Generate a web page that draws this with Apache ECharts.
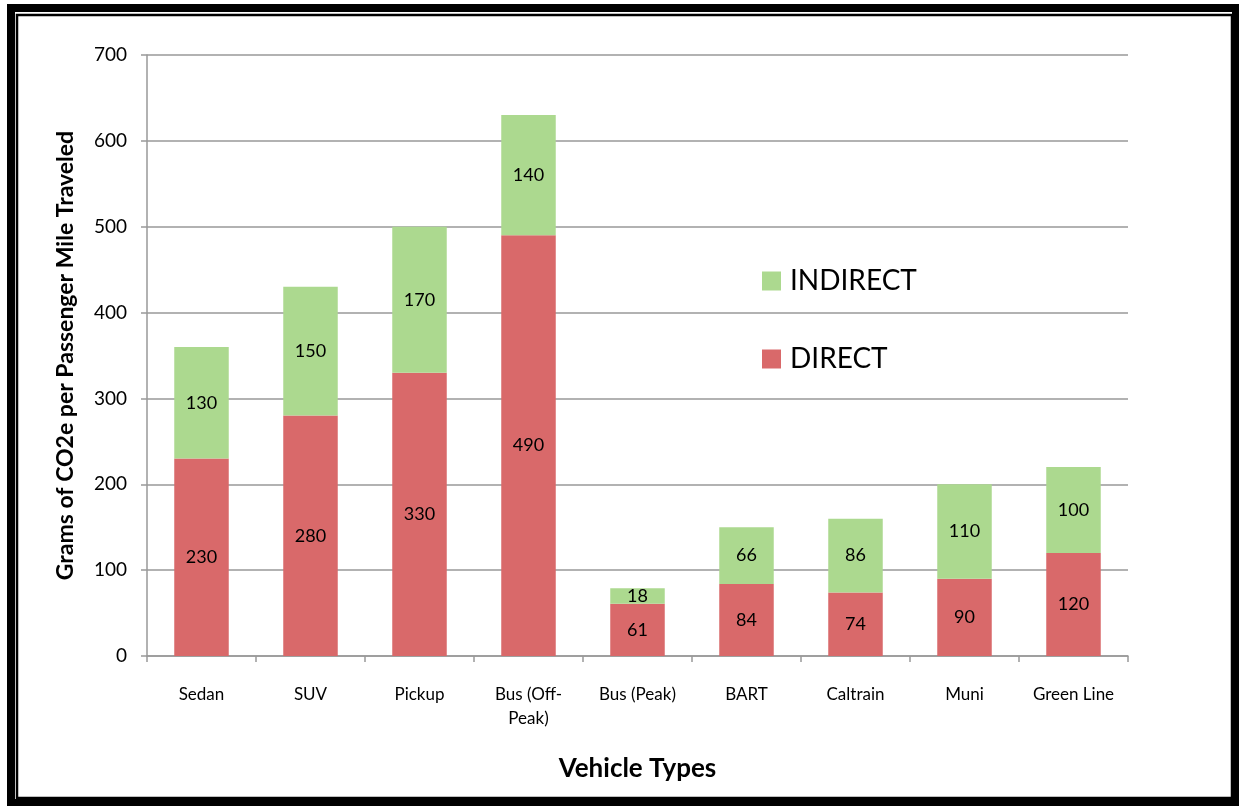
<!DOCTYPE html>
<html>
<head>
<meta charset="utf-8">
<script src="https://cdn.jsdelivr.net/npm/echarts@6/dist/echarts.min.js"></script>
<style>
html,body{margin:0;padding:0;background:#fff;}
#c{width:1239px;height:806px;}
</style>
</head>
<body>
<div id="c"></div>
<script>
const categories = ['Sedan','SUV','Pickup','Bus (Off-Peak)','Bus (Peak)','BART','Caltrain','Muni','Green Line'];
const directValues = [230,280,330,490,61,84,74,90,120];
const indirectValues = [130,150,170,140,18,66,86,110,100];
const yTicks = {min:0, max:700, interval:100};

const FONT = 'Lato, "Open Sans", sans-serif';
const chart = echarts.init(document.getElementById('c'));
const labelCfg = {show:true, position:'inside', color:'#000', fontSize:18, fontFamily:FONT};
chart.setOption({
  animation:false,
  backgroundColor:'#fff',
  grid:{left:147, right:111, top:55, bottom:150},
  legend:{
    data:['INDIRECT','DIRECT'],
    orient:'vertical', left:757, top:262,
    itemWidth:19, itemHeight:19, itemGap:50,
    icon:'rect',
    textStyle:{fontSize:28, color:'#000', fontFamily:FONT, padding:[0,0,0,4]}
  },
  xAxis:{
    type:'category', data:categories,
    name:'Vehicle Types', nameLocation:'middle', nameGap:100,
    nameTextStyle:{fontSize:26, fontWeight:'bold', color:'#000', fontFamily:FONT},
    axisLine:{lineStyle:{color:'#999', width:1.5}},
    axisTick:{show:true, length:6, lineStyle:{color:'#999', width:1.5}},
    axisLabel:{color:'#000', fontSize:17, fontFamily:FONT, margin:27, lineHeight:24,
      interval:0,
      formatter:v=>v.replace('Off-','Off-\n')}
  },
  yAxis:{
    type:'value', min:yTicks.min, max:yTicks.max, interval:yTicks.interval,
    name:'Grams of CO2e per Passenger Mile Traveled', nameLocation:'middle', nameGap:70,
    nameTextStyle:{fontSize:23, fontWeight:'bold', color:'#000', fontFamily:FONT},
    axisLine:{show:true, lineStyle:{color:'#999', width:1.5}},
    axisTick:{show:true, length:6, lineStyle:{color:'#999', width:1.5}},
    splitLine:{lineStyle:{color:'#999', width:1.5}},
    axisLabel:{color:'#000', fontSize:19, fontFamily:FONT, margin:20}
  },
  series:[
    {name:'DIRECT', type:'bar', stack:'t', data:directValues, barWidth:'50%',
     itemStyle:{color:'#d9696a'}, label:labelCfg},
    {name:'INDIRECT', type:'bar', stack:'t', data:indirectValues, barWidth:'50%',
     itemStyle:{color:'#acd98f'}, label:labelCfg}
  ],
  graphic:[
    {type:'rect', shape:{x:11, y:8, width:1225, height:795}, style:{fill:'none', stroke:'#000', lineWidth:8}},
    {type:'rect', shape:{x:17, y:15, width:1215, height:783}, style:{fill:'none', stroke:'#000', lineWidth:2.5}}
  ]
});
</script>
</body>
</html>
